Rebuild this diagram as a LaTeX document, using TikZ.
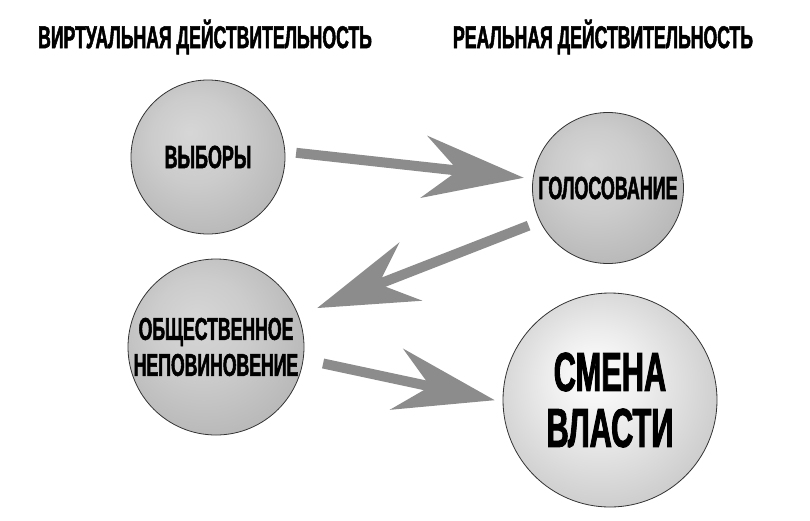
\documentclass[tikz,border=0pt]{standalone}
\usepackage{fontspec}
\setmainfont{Liberation Sans}[FakeStretch=0.56, BoldFeatures={FakeBold=1.6}]
\usepackage{tikz}
\usetikzlibrary{arrows.meta, positioning}

% shading of the spheres
\pgfdeclareradialshading{sphereshade}{\pgfpoint{-6bp}{8bp}}{%
  color(0bp)=(gray!32); color(14bp)=(gray!40); color(36bp)=(gray!62); color(50bp)=(gray!82)}
\pgfdeclareradialshading{bigshade}{\pgfpoint{-4bp}{6bp}}{%
  color(0bp)=(white); color(12bp)=(gray!15); color(34bp)=(gray!48); color(50bp)=(gray!85)}

\tikzset{
  sphere/.style={circle, draw=black!80, line width=0.8pt, shading=sphereshade,
    inner sep=0pt, align=center, font=\bfseries\fontsize{32}{36}\selectfont},
  heading/.style={font=\bfseries\fontsize{31.5}{32}\selectfont, inner sep=0pt},
  flow/.style={draw=black!45, line width=10pt,
    -{Stealth[length=100pt, width=62pt, inset=34pt, fill=black!45]}}
}

\begin{document}
\begin{tikzpicture}[x=1pt, y=-1pt]
    \useasboundingbox[fill=white] (0,0) rectangle (810,520);

    % 1. Заголовки
    \node[heading] (virt) at (205,37) {ВИРТУАЛЬНАЯ ДЕЙСТВИТЕЛЬНОСТЬ};
    \node[heading] (real) at (603,37) {РЕАЛЬНАЯ ДЕЙСТВИТЕЛЬНОСТЬ};

    % 2. Шары
    \node[sphere, minimum size=154pt] (vybory) at (208,157) {ВЫБОРЫ};
    \node[sphere, minimum size=151pt] (golos) at (608,188) {ГОЛОСОВАНИЕ};
    \node[sphere, minimum size=176pt, font=\bfseries\fontsize{31.5}{36}\selectfont]
        (nepov) at (216,347) {ОБЩЕСТВЕННОЕ\\НЕПОВИНОВЕНИЕ};
    \node[sphere, minimum size=214pt, shading=bigshade,
        font=\bfseries\fontsize{55}{56}\selectfont] (smena) at (610,400) {СМЕНА\\ВЛАСТИ};

    % 3. Стрелки
    \draw[flow, shorten <=11pt, shorten >=9pt] (vybory.4.5) -- (golos.173.9);
    \draw[flow, shorten <=12pt, shorten >=20pt] (golos.206.6) -- (nepov.21.8);
    \draw[flow, shorten <=20pt, shorten >=8pt] (nepov.-8.5) -- (smena.181.5);

\end{tikzpicture}
\end{document}
